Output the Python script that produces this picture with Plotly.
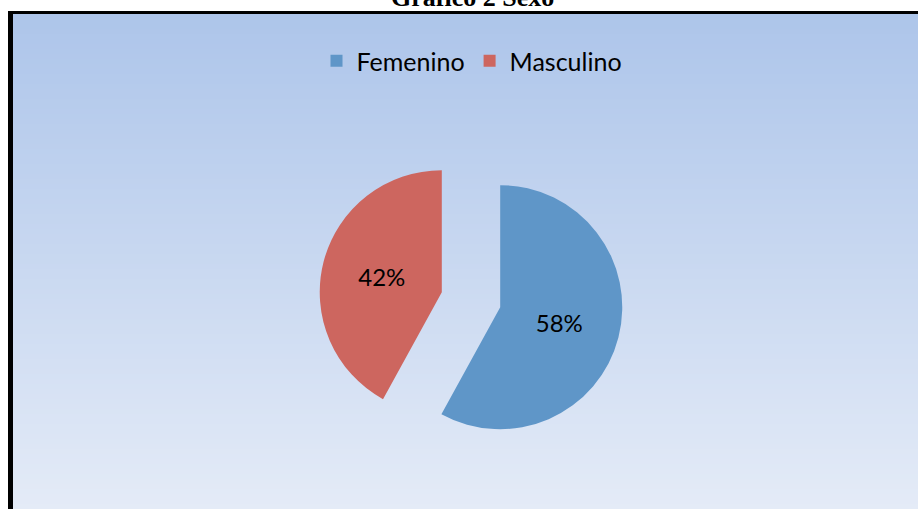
import plotly.graph_objects as go

# ---- data ----
categories = ["Femenino", "Masculino"]
values = [58, 42]
colors = ["#5F96C8", "#CD665F"]
title_text = "Gráfico 2 Sexo"

W, H = 918, 509

def px(x):
    return x / W

def py(y):
    return 1 - y / H

fig = go.Figure()

fig.add_trace(go.Pie(
    labels=categories,
    values=values,
    sort=False,
    direction="clockwise",
    rotation=0,
    pull=[0.247, 0.247],
    marker=dict(colors=colors, line=dict(width=0)),
    texttemplate="%{percent:.0%}",
    textposition="inside",
    insidetextorientation="horizontal",
    textfont=dict(family="Lato", size=24, color="black"),
    hoverinfo="label+percent",
    domain=dict(x=[px(318.8), px(623.2)], y=[py(451.9), py(147.5)]),
))

shapes = []
# vertical gradient background (stripes)
top_c = (173, 197, 234)
bot_c = (228, 235, 247)
y0, y1 = 14, 509
n = 99
for i in range(n):
    ya = y0 + (y1 - y0) * i / n
    yb = y0 + (y1 - y0) * (i + 1) / n
    t = (i + 0.5) / n
    c = tuple(round(top_c[k] + (bot_c[k] - top_c[k]) * t) for k in range(3))
    shapes.append(dict(type="rect", xref="paper", yref="paper",
                       x0=px(13), x1=1.0, y0=py(yb + 0.6), y1=py(ya),
                       fillcolor="rgb(%d,%d,%d)" % c, line=dict(width=0),
                       layer="below"))
# border lines
shapes.append(dict(type="rect", xref="paper", yref="paper",
                   x0=px(8), x1=px(13), y0=0, y1=py(11),
                   fillcolor="black", line=dict(width=0), layer="below"))
shapes.append(dict(type="rect", xref="paper", yref="paper",
                   x0=px(8), x1=1.0, y0=py(14), y1=py(11),
                   fillcolor="black", line=dict(width=0), layer="below"))

fig.update_layout(
    width=W, height=H, autosize=False,
    margin=dict(l=0, r=0, t=0, b=0),
    paper_bgcolor="white",
    plot_bgcolor="white",
    shapes=shapes,
    showlegend=True,
    legend=dict(orientation="h", x=px(472), xanchor="center",
                y=py(61), yanchor="middle",
                font=dict(family="Lato", size=25, color="black"),
                bgcolor="rgba(0,0,0,0)", traceorder="normal"),
    annotations=[dict(text="<b>" + title_text + "</b>", xref="paper", yref="paper",
                      x=px(472), y=py(13.5), xanchor="center", yanchor="bottom",
                      showarrow=False,
                      font=dict(family="Liberation Serif", size=26, color="black"))],
)

fig.write_html(
    "out.html",
    config={"displayModeBar": False},
    post_script="document.body.style.margin='0';document.body.style.overflow='hidden';",
)
